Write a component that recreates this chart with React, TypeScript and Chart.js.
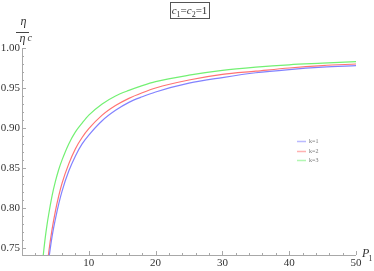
import React, { useEffect, useRef } from "react";
import { Chart, registerables } from "chart.js";

Chart.register(...registerables);

// P1 sample positions
const pValues = [3, 3.25, 3.5, 3.75, 4, 4.5, 5, 5.5, 6, 7, 8, 9, 10, 12, 14, 16, 18, 20, 25, 30, 35, 40, 45, 50];
// eta / eta_c
const k1Values = [0.651, 0.677, 0.699, 0.718, 0.735, 0.764, 0.786, 0.805, 0.821, 0.846, 0.865, 0.88, 0.891, 0.909, 0.922, 0.932, 0.939, 0.945, 0.956, 0.963, 0.969, 0.973, 0.976, 0.978];
const k2Values = [0.655, 0.682, 0.706, 0.726, 0.744, 0.773, 0.796, 0.815, 0.831, 0.855, 0.874, 0.888, 0.899, 0.916, 0.928, 0.937, 0.944, 0.95, 0.96, 0.967, 0.971, 0.975, 0.978, 0.98];
const k3Values = [0.726, 0.746, 0.764, 0.779, 0.792, 0.815, 0.833, 0.848, 0.86, 0.88, 0.895, 0.906, 0.916, 0.93, 0.94, 0.947, 0.953, 0.958, 0.966, 0.972, 0.976, 0.979, 0.981, 0.983];

const seriesLabels = ["k=1", "k=2", "k=3"];
const seriesColors = ["rgb(130,130,255)", "rgb(255,115,115)", "rgb(115,240,115)"];

const xTicks = [10, 20, 30, 40, 50];
const yTicks = [0.75, 0.8, 0.85, 0.9, 0.95, 1.0];
const xMin = 0;
const xMax = 50;
const yMin = 0.741;
const yMax = 1.0;

const SERIF = '"Liberation Serif", "DejaVu Serif", serif';
const AXIS_COLOR = "#a8a8a8";
const TEXT_COLOR = "#333";

const decorPlugin = {
  id: "decor",
  beforeDatasetsDraw(chart: any) {
    const ctx = chart.ctx;
    const xs = chart.scales.x;
    const ys = chart.scales.y;
    const x0 = xs.getPixelForValue(xMin);
    const y0 = ys.getPixelForValue(yMin);
    ctx.save();
    ctx.strokeStyle = AXIS_COLOR;
    ctx.lineWidth = 1;
    // axis lines
    ctx.beginPath();
    ctx.moveTo(x0, Math.round(y0) + 0.5);
    ctx.lineTo(xs.getPixelForValue(xMax), Math.round(y0) + 0.5);
    ctx.moveTo(Math.round(x0) + 0.5, y0);
    ctx.lineTo(Math.round(x0) + 0.5, ys.getPixelForValue(yMax));
    ctx.stroke();
    // x ticks (inward)
    ctx.beginPath();
    for (let v = 2; v <= xMax + 1e-9; v += 2) {
      const px = Math.round(xs.getPixelForValue(v)) + 0.5;
      const major = xTicks.some((t) => Math.abs(t - v) < 1e-6);
      ctx.moveTo(px, Math.round(y0));
      ctx.lineTo(px, Math.round(y0) - (major ? 4 : 2));
    }
    // y ticks (inward)
    for (let i = 0; i <= 25; i++) {
      const v = 0.75 + i * 0.01;
      const py = Math.round(ys.getPixelForValue(v)) + 0.5;
      const major = yTicks.some((t) => Math.abs(t - v) < 1e-6);
      ctx.moveTo(Math.round(x0), py);
      ctx.lineTo(Math.round(x0) + (major ? 4 : 2), py);
    }
    ctx.stroke();
    ctx.restore();
  },
  afterDraw(chart: any) {
    const ctx = chart.ctx;
    ctx.save();
    ctx.fillStyle = TEXT_COLOR;
    ctx.textBaseline = "alphabetic";

    // title box  c1=c2=1
    const parts: [string, string, number][] = [
      ["c", "italic 11px " + SERIF, 0],
      ["1", "8px " + SERIF, 2.5],
      ["=", "11px " + SERIF, 0],
      ["c", "italic 11px " + SERIF, 0],
      ["2", "8px " + SERIF, 2.5],
      ["=1", "11px " + SERIF, 0],
    ];
    let total = 0;
    for (const [t, f] of parts) {
      ctx.font = f;
      total += ctx.measureText(t).width;
    }
    const cx = 189.5;
    const boxW = 39;
    const boxH = 16;
    ctx.strokeStyle = "#555";
    ctx.lineWidth = 1;
    ctx.strokeRect(Math.round(cx - boxW / 2) + 0.5, 2.5, boxW, boxH);
    let tx = cx - total / 2;
    for (const [t, f, dy] of parts) {
      ctx.font = f;
      ctx.fillText(t, tx, 14 + dy);
      tx += ctx.measureText(t).width;
    }

    // y axis label: eta / eta_c
    ctx.font = "italic 12px " + SERIF;
    ctx.textAlign = "center";
    ctx.fillText("\u03b7", 23.5, 25);
    ctx.strokeStyle = "#444";
    ctx.beginPath();
    ctx.moveTo(16, 32.5);
    ctx.lineTo(29, 32.5);
    ctx.stroke();
    ctx.textAlign = "left";
    ctx.fillText("\u03b7", 19.5, 41.5);
    ctx.font = "italic 10px " + SERIF;
    ctx.fillText("c", 27.5, 41);

    // x axis label: P1
    ctx.font = "italic 12px " + SERIF;
    ctx.fillText("P", 362, 257);
    ctx.font = "8px " + SERIF;
    ctx.fillText("1", 368.5, 261);

    // legend
    const legendYs = [141, 151, 160];
    chart.data.datasets.forEach((ds: any, i: number) => {
      const y = legendYs[i] + 0.5;
      ctx.strokeStyle = ds.borderColor;
      ctx.globalAlpha = 0.55;
      ctx.lineWidth = 1.5;
      ctx.beginPath();
      ctx.moveTo(297, y);
      ctx.lineTo(306, y);
      ctx.stroke();
      ctx.globalAlpha = 1;
      ctx.fillStyle = "#777";
      ctx.font = "6px " + SERIF;
      ctx.textBaseline = "middle";
      ctx.fillText(ds.label, 309, y);
    });
    ctx.restore();
  },
};

export default function App() {
  const ref = useRef<HTMLCanvasElement | null>(null);

  useEffect(() => {
    if (!ref.current) return;
    const mk = (vals: number[]) => pValues.map((p, i) => ({ x: p, y: vals[i] }));
    const all = [k1Values, k2Values, k3Values];
    const chart = new Chart(ref.current, {
      type: "line",
      data: {
        datasets: all.map((vals, i) => ({
          label: seriesLabels[i],
          data: mk(vals),
          borderColor: seriesColors[i],
          backgroundColor: seriesColors[i],
          borderWidth: 1.2,
          pointRadius: 0,
          fill: false,
          cubicInterpolationMode: "monotone" as const,
        })),
      },
      options: {
        responsive: false,
        maintainAspectRatio: false,
        animation: false,
        events: [],
        layout: { padding: { left: 0, right: 18, top: 48, bottom: 0 } },
        plugins: {
          legend: { display: false },
          title: { display: false },
          tooltip: { enabled: false },
        },
        scales: {
          x: {
            type: "linear",
            min: xMin,
            max: xMax,
            afterBuildTicks: (s: any) => {
              s.ticks = xTicks.map((v) => ({ value: v }));
            },
            afterFit: (s: any) => {
              s.height = 16;
            },
            grid: { display: false, drawTicks: false },
            border: { display: false },
            ticks: {
              autoSkip: false,
              maxRotation: 0,
              padding: 2,
              color: TEXT_COLOR,
              font: { family: SERIF, size: 11 },
              callback: (v: any) => String(v),
            },
          },
          y: {
            type: "linear",
            min: yMin,
            max: yMax,
            afterBuildTicks: (s: any) => {
              s.ticks = yTicks.map((v) => ({ value: v }));
            },
            afterFit: (s: any) => {
              s.width = 22;
            },
            grid: { display: false, drawTicks: false },
            border: { display: false },
            ticks: {
              autoSkip: false,
              padding: 2,
              color: TEXT_COLOR,
              font: { family: SERIF, size: 11 },
              callback: (v: any) => Number(v).toFixed(2),
            },
          },
        },
      },
      plugins: [decorPlugin],
    });
    return () => chart.destroy();
  }, []);

  return (
    <div style={{ position: "absolute", left: 0, top: 0, width: 374, height: 271, background: "#fff" }}>
      <canvas ref={ref} width={374} height={271} style={{ display: "block", width: 374, height: 271 }} />
    </div>
  );
}
